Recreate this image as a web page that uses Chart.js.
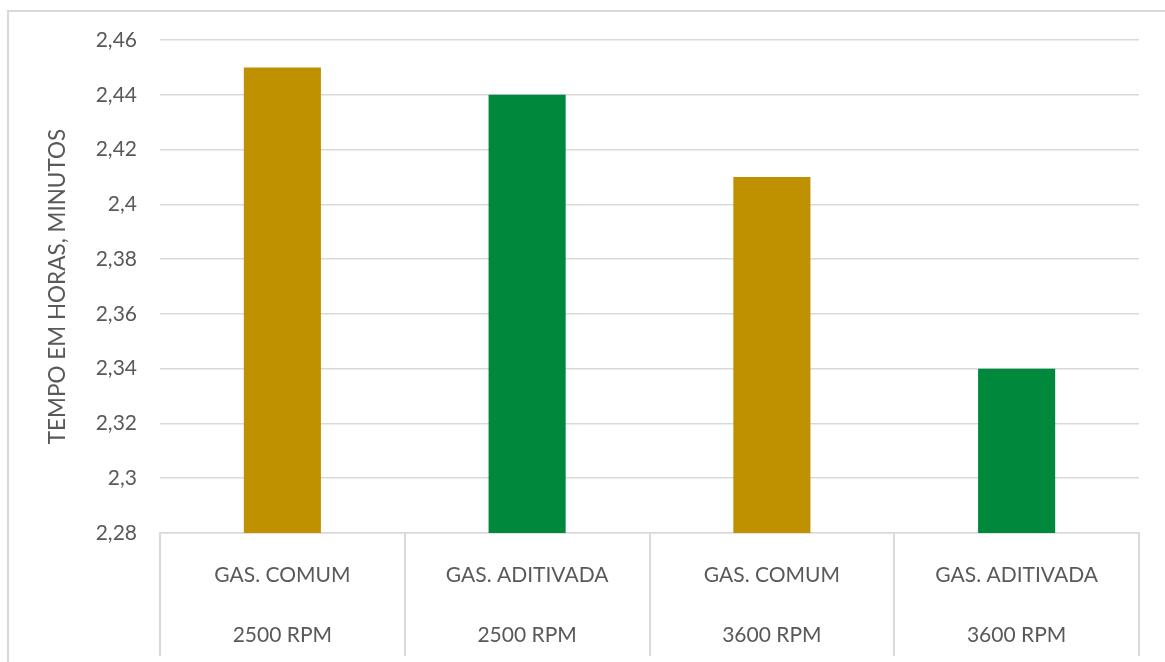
<!DOCTYPE html>
<html>
<head>
<meta charset="utf-8">
<script src="https://cdn.jsdelivr.net/npm/chart.js@4"></script>
<style>
  html, body { margin: 0; padding: 0; background: #ffffff; overflow: hidden; }
  #wrap { position: relative; width: 1165px; height: 662px; }
  #frame { position: absolute; left: 7px; top: 10px; width: 1300px; height: 800px;
           border: 2px solid #d9d9d9; box-sizing: border-box; }
  #chart { position: absolute; left: 0; top: 0; }
</style>
</head>
<body>
<div id="wrap">
  <div id="frame"></div>
  <canvas id="chart" width="1165" height="662"></canvas>
</div>
<script>
// Combustível e rotação de cada ensaio
const categories = ['GAS. COMUM', 'GAS. ADITIVADA', 'GAS. COMUM', 'GAS. ADITIVADA'];
const rpmGroups = ['2500 RPM', '2500 RPM', '3600 RPM', '3600 RPM'];
// Tempo medido (horas, minutos)
const tempos = [2.45, 2.44, 2.41, 2.34];
const barColors = ['#BF9000', '#00893D', '#BF9000', '#00893D'];
// Escala do eixo vertical
const yMin = 2.28;
const yMax = 2.46;
const yStep = 0.02;

const FONT = 'Lato, "Open Sans", sans-serif';
const TEXT = '#595959';
const GRID = '#d9d9d9';

const labels = categories.map((c, i) => [c, rpmGroups[i]]);

new Chart(document.getElementById('chart'), {
  type: 'bar',
  data: {
    labels: labels,
    datasets: [{
      data: tempos,
      backgroundColor: barColors,
      borderWidth: 0,
      barPercentage: 0.315,
      categoryPercentage: 1
    }]
  },
  options: {
    responsive: false,
    animation: false,
    layout: { padding: { left: 0, right: 26, top: 40, bottom: 0 } },
    plugins: { legend: { display: false }, tooltip: { enabled: false } },
    scales: {
      x: {
        offset: true,
        grid: {
          offset: true,
          drawOnChartArea: false,
          drawTicks: true,
          tickLength: 123,
          color: GRID,
          lineWidth: 2
        },
        border: { display: true, color: GRID, width: 1.5 },
        ticks: {
          color: TEXT,
          padding: -111,
          maxRotation: 0,
          autoSkip: false,
          font: { family: FONT, size: 21, lineHeight: 60 / 21 }
        },
        afterFit: s => { s.height = 129; }
      },
      y: {
        min: yMin,
        max: yMax,
        grid: { color: GRID, lineWidth: 1.5, drawTicks: false },
        border: { display: false },
        ticks: {
          stepSize: yStep,
          color: TEXT,
          padding: 23,
          font: { family: FONT, size: 21 },
          callback: v => String(Number(v.toFixed(2))).replace('.', ',')
        },
        title: {
          display: true,
          text: 'TEMPO EM HORAS, MINUTOS',
          color: TEXT,
          font: { family: FONT, size: 22.5, lineHeight: 1.2 },
          padding: { top: 44, bottom: 0 }
        },
        afterFit: s => { s.width = 160; }
      }
    }
  }
});
</script>
</body>
</html>
